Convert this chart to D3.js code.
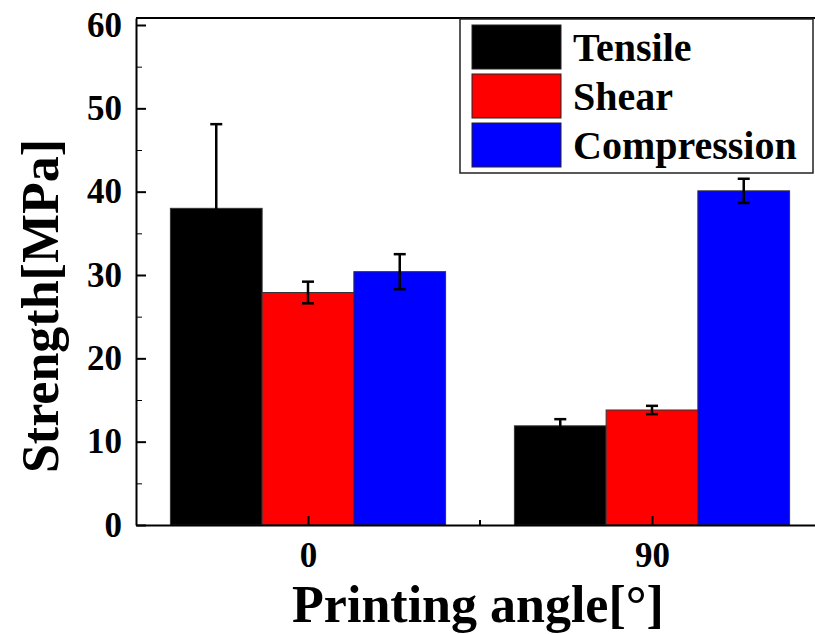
<!DOCTYPE html>
<html>
<head>
<meta charset="utf-8">
<script src="https://cdn.jsdelivr.net/npm/d3@7"></script>
<style>
  body { margin: 0; background: #fff; }
  svg { display: block; }
  text { font-family: "Liberation Serif", "Times New Roman", serif; font-weight: bold; fill: #000; }
</style>
</head>
<body>
<svg id="chart" width="815" height="634"></svg>
<script>
// ---- data ----
const categories = ["0", "90"];
const seriesNames = ["Tensile", "Shear", "Compression"];
const tensileValues = [38.0, 11.9];
const tensileErrors = [10.1, 0.8];
const shearValues = [27.9, 13.8];
const shearErrors = [1.3, 0.5];
const compressionValues = [30.4, 40.1];
const compressionErrors = [2.1, 1.45];
const yTicks = [0, 10, 20, 30, 40, 50, 60];
const yMinorTicks = [5, 15, 25, 35, 45, 55];
const seriesColors = ["#000000", "#ff0000", "#0000ff"];

const seriesValues = [tensileValues, shearValues, compressionValues];
const seriesErrors = [tensileErrors, shearErrors, compressionErrors];

// ---- layout ----
const svg = d3.select("#chart");
const mLeft = 136, mRight = 824, mTop = 18, mBottom = 525;

const x = d3.scalePoint().domain(categories).range([mLeft, mRight]).padding(0.5);
const step = x.step();
const xInner = d3.scaleBand().domain(seriesNames).range([-0.4 * step, 0.4 * step]);
const y = d3.scaleLinear().domain([0, 60.84]).range([mBottom, mTop]);

// bars
const rows = [];
seriesNames.forEach((s, si) => {
  categories.forEach((c, ci) => {
    rows.push({ s, si, c, v: seriesValues[si][ci], e: seriesErrors[si][ci] });
  });
});

svg.append("g").selectAll("rect").data(rows).join("rect")
  .attr("x", d => x(d.c) + xInner(d.s))
  .attr("y", d => y(d.v))
  .attr("width", xInner.bandwidth())
  .attr("height", d => y(0) - y(d.v))
  .attr("fill", d => seriesColors[d.si])
  .attr("stroke", "#333")
  .attr("stroke-width", 1);

// error bars
const eg = svg.append("g").attr("stroke", "#000").attr("stroke-width", 2.5);
rows.forEach(d => {
  const cx = x(d.c) + xInner(d.s) + xInner.bandwidth() / 2;
  eg.append("line").attr("x1", cx).attr("x2", cx).attr("y1", y(d.v + d.e)).attr("y2", y(d.v - d.e));
  eg.append("line").attr("x1", cx - 6).attr("x2", cx + 6).attr("y1", y(d.v + d.e)).attr("y2", y(d.v + d.e));
  eg.append("line").attr("x1", cx - 6).attr("x2", cx + 6).attr("y1", y(d.v - d.e)).attr("y2", y(d.v - d.e));
});

// frame (top & right)
svg.append("line").attr("x1", mLeft).attr("x2", mRight).attr("y1", mTop).attr("y2", mTop)
  .attr("stroke", "#000").attr("stroke-width", 2);
svg.append("line").attr("x1", mRight).attr("x2", mRight).attr("y1", mTop).attr("y2", mBottom)
  .attr("stroke", "#000").attr("stroke-width", 2);

// y axis
const yAxis = svg.append("g").attr("transform", `translate(${mLeft},0)`)
  .call(d3.axisLeft(y).tickValues(yTicks).tickSize(-10).tickPadding(14).tickSizeOuter(0));
svg.append("g").attr("transform", `translate(${mLeft},0)`)
  .call(d3.axisLeft(y).tickValues(yMinorTicks).tickSize(-6).tickFormat("").tickSizeOuter(0))
  .select(".domain").remove();
yAxis.select(".domain").attr("stroke-width", 2);
yAxis.selectAll(".tick line").attr("stroke-width", 2);
yAxis.selectAll(".tick text").style("font-size", "35px").style("font-family", "Liberation Serif").style("font-weight", "bold").attr("fill", "#000");

// x axis
const xAxis = svg.append("g").attr("transform", `translate(0,${mBottom})`)
  .call(d3.axisBottom(x).tickSize(-9).tickPadding(17).tickSizeOuter(0));
xAxis.select(".domain").attr("stroke-width", 2);
xAxis.selectAll(".tick line").attr("stroke-width", 2);
xAxis.selectAll(".tick text").style("font-size", "35px").style("font-family", "Liberation Serif").style("font-weight", "bold").attr("fill", "#000");
// minor x tick between groups
svg.append("line").attr("x1", (mLeft + mRight) / 2).attr("x2", (mLeft + mRight) / 2)
  .attr("y1", mBottom).attr("y2", mBottom - 5).attr("stroke", "#000").attr("stroke-width", 2);
svg.selectAll(".tick line").attr("stroke", "#000");
svg.selectAll(".domain").attr("stroke", "#000");

// axis titles
svg.append("text")
  .attr("transform", `translate(58,306) rotate(-90)`)
  .attr("text-anchor", "middle")
  .style("font-size", "52px")
  .text("Strength[MPa]");
svg.append("text")
  .attr("x", 478).attr("y", 622)
  .attr("text-anchor", "middle")
  .style("font-size", "52px")
  .text("Printing angle[°]");

// legend
const lg = svg.append("g");
lg.append("rect").attr("x", 460).attr("y", 19).attr("width", 353).attr("height", 154)
  .attr("fill", "#fff").attr("stroke", "#222").attr("stroke-width", 1.5);
seriesNames.forEach((s, i) => {
  lg.append("rect").attr("x", 472).attr("y", 25 + i * 49).attr("width", 89).attr("height", 44)
    .attr("fill", seriesColors[i]).attr("stroke", "#222").attr("stroke-width", 1);
  lg.append("text").attr("x", 573).attr("y", 61 + i * 49).style("font-size", "40px").text(s);
});
</script>
</body>
</html>
